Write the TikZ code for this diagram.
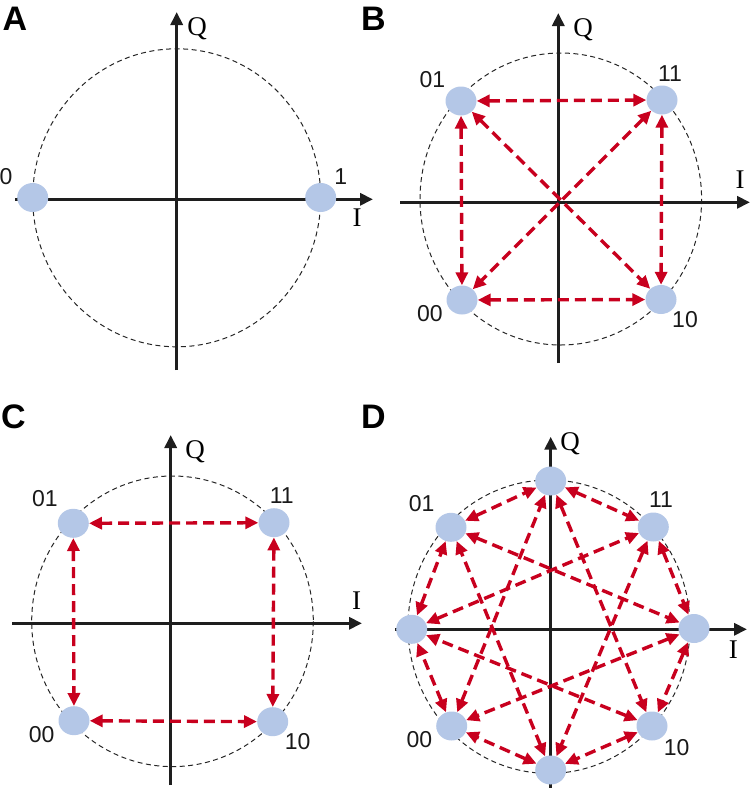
\documentclass[tikz,border=0pt]{standalone}
\usepackage{fontspec}
\setmainfont{Liberation Serif}
\setsansfont{Liberation Sans}
\usetikzlibrary{arrows.meta,shapes.geometric}
\definecolor{dotblue}{HTML}{B4C7E7}
\definecolor{arrred}{HTML}{C8001E}
\definecolor{axisgray}{HTML}{1E1E1E}
\begin{document}
\begin{tikzpicture}[x=1pt,y=-1pt,
 axis/.style={line width=3.2pt, draw=axisgray, -{Triangle[length=13pt,width=12pt]}},
 ring/.style={draw=black!85, line width=1pt, dash pattern=on 5pt off 3.5pt},
 dot/.style={ellipse, fill=dotblue, inner sep=0pt, minimum width=31pt, minimum height=29pt},
 lab/.style={font=\sffamily\fontsize{23}{25}\selectfont, text=black!90, inner sep=0pt},
 axlab/.style={font=\rmfamily\fontsize{27}{29}\selectfont, inner sep=0pt},
 panel/.style={font=\sffamily\bfseries\fontsize{34}{36}\selectfont, inner sep=0pt},
 link/.style={draw=arrred, line width=3.4pt, dash pattern=on 11pt off 6pt, {Triangle[length=13pt,width=12pt]}-{Triangle[length=13pt,width=12pt]}},
]
\useasboundingbox (0,0) rectangle (750,788);

% ---------------- Panel A ----------------
\draw[ring] (176.7,197.8) ellipse [x radius=144, y radius=149];
\coordinate (aL) at (15,199.3);
\coordinate (aR) at (373,199.3);
\coordinate (aB) at (176.7,370);
\coordinate (aT) at (176.7,12);
\draw[axis] (aL) -- (aR);
\draw[axis] (aB) -- (aT);
\node[dot] (a0) at (32.7,197.5) {};
\node[dot] (a1) at (320.7,197.5) {};
\node[lab] (la0) at (6,177) {0};
\node[lab] (la1) at (340.7,176.7) {1};
\node[axlab] (aQ) at (197,29) {Q};
\node[axlab] (aI) at (357,218) {I};
\node[panel] (pA) at (15,18.5) {A};

% ---------------- Panel B ----------------
\draw[ring] (560.8,199) ellipse [x radius=140.8, y radius=146];
\coordinate (bL) at (400,202.3);
\coordinate (bR) at (750,202.3);
\coordinate (bB) at (558.3,363);
\coordinate (bT) at (558.3,13);
\draw[axis] (bL) -- (bR);
\draw[axis] (bB) -- (bT);
\node[dot] (b01) at (461,101) {};
\node[dot] (b11) at (662,100) {};
\node[dot] (b00) at (462,300) {};
\node[dot] (b10) at (661,299.5) {};
\draw[link] (b01) -- (b11);
\draw[link] (b00) -- (b10);
\draw[link] (b01) -- (b00);
\draw[link] (b11) -- (b10);
\draw[link] (b01) -- (b10);
\draw[link] (b11) -- (b00);
\node[lab] (lb01) at (432.3,79.3) {01};
\node[lab] (lb11) at (670,74) {11};
\node[lab] (lb00) at (430,313.3) {00};
\node[lab] (lb10) at (685,320) {10};
\node[axlab] (bQ) at (583,30) {Q};
\node[axlab] (bI) at (740,180) {I};
\node[panel] (pB) at (373.5,18.5) {B};

% ---------------- Panel C ----------------
\draw[ring] (172.5,621.3) ellipse [x radius=140.8, y radius=145.3];
\coordinate (cL) at (12,623.3);
\coordinate (cR) at (362,623.3);
\coordinate (cB) at (170.7,785);
\coordinate (cT) at (170.7,435);
\draw[axis] (cL) -- (cR);
\draw[axis] (cB) -- (cT);
\node[dot] (c01) at (73.3,523.3) {};
\node[dot] (c11) at (274,522.7) {};
\node[dot] (c00) at (74,720.7) {};
\node[dot] (c10) at (272.7,721.7) {};
\draw[link] (c01) -- (c11);
\draw[link] (c00) -- (c10);
\draw[link] (c01) -- (c00);
\draw[link] (c11) -- (c10);
\node[lab] (lc01) at (45,498.3) {01};
\node[lab] (lc11) at (281.7,496) {11};
\node[lab] (lc00) at (41.7,735) {00};
\node[lab] (lc10) at (297.7,741.7) {10};
\node[axlab] (cQ) at (195,451.7) {Q};
\node[axlab] (cI) at (356.7,600.7) {I};
\node[panel] (pC) at (13.5,416.5) {C};

% ---------------- Panel D ----------------
\draw[ring] (549,626.7) ellipse [x radius=141, y radius=146.7];
\coordinate (dL) at (395,629.3);
\coordinate (dR) at (747,629.3);
\coordinate (dB) at (550.7,790);
\coordinate (dT) at (550.7,436.7);
\draw[axis] (dL) -- (dR);
\draw[axis] (dB) -- (dT);
\node[dot] (d0) at (550.7,481) {};
\node[dot] (d1) at (653.3,527) {};
\node[dot] (d2) at (694,628.5) {};
\node[dot] (d3) at (652,726) {};
\node[dot] (d4) at (550.7,770) {};
\node[dot] (d5) at (451.7,726) {};
\node[dot] (d6) at (411.7,629.3) {};
\node[dot] (d7) at (451,527.3) {};
% neighbours
\draw[link] (d0) -- (d1);
\draw[link] (d1) -- (d2);
\draw[link] (d2) -- (d3);
\draw[link] (d3) -- (d4);
\draw[link] (d4) -- (d5);
\draw[link] (d5) -- (d6);
\draw[link] (d6) -- (d7);
\draw[link] (d7) -- (d0);
% star
\draw[link] (d0) -- (d3);
\draw[link] (d1) -- (d4);
\draw[link] (d2) -- (d5);
\draw[link] (d3) -- (d6);
\draw[link] (d4) -- (d7);
\draw[link] (d5) -- (d0);
\draw[link] (d6) -- (d1);
\draw[link] (d7) -- (d2);
\node[lab] (ld01) at (421.7,503.3) {01};
\node[lab] (ld11) at (661,500) {11};
\node[lab] (ld00) at (419.3,740) {00};
\node[lab] (ld10) at (676.7,747.3) {10};
\node[axlab] (dQ) at (570,443.3) {Q};
\node[axlab] (dI) at (733.3,650) {I};
\node[panel] (pD) at (373.5,416.5) {D};
\end{tikzpicture}
\end{document}
